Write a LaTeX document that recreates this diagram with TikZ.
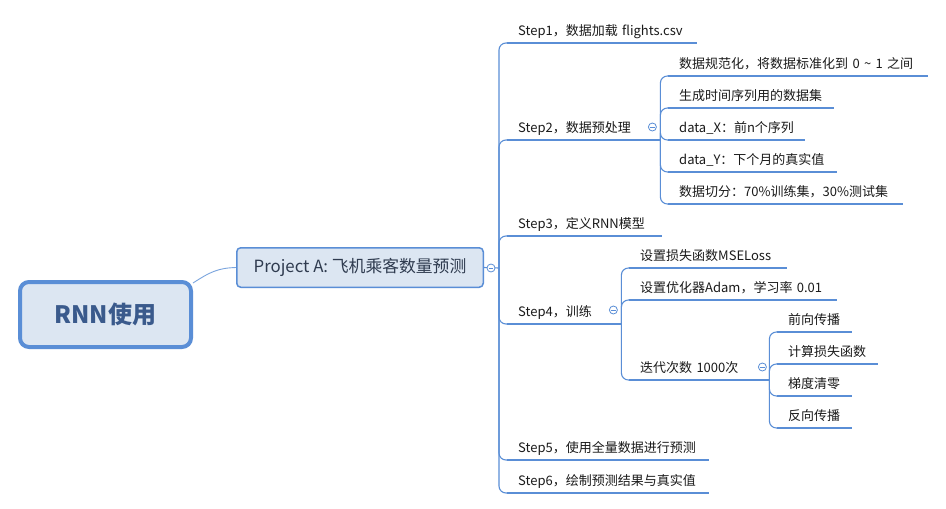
\documentclass[tikz,border=0pt]{standalone}
\usepackage{fontspec}
\setmainfont{Noto Sans CJK SC}
\usetikzlibrary{calc}
\definecolor{lineblue}{HTML}{5A8ED6}
\definecolor{boxfill}{HTML}{DCE6F2}
\definecolor{roottext}{HTML}{3A5A8C}
\definecolor{projtext}{HTML}{2F3B4F}
\definecolor{steptext}{HTML}{1A1A1A}
\begin{document}
\begin{tikzpicture}[x=1pt,y=-1pt,
  topic/.style={anchor=south west, inner xsep=11pt, inner ysep=4pt, text height=10pt, text depth=3pt, text width=#1, align=left, font=\fontsize{13pt}{15pt}\selectfont, text=steptext},
  uline/.style={draw=lineblue, line width=2.6pt},
  conn/.style={draw=lineblue, line width=1.1pt, rounded corners=7pt},
  knob/.style={circle, draw=lineblue, fill=white, line width=0.8pt, minimum size=8pt, inner sep=0pt},
  minus/.style={draw=lineblue, line width=0.8pt}
]
\useasboundingbox[fill=white] (0,0) rectangle (946,509);

% central nodes
\node[draw=lineblue, line width=4pt, fill=boxfill, rounded corners=9pt, minimum width=171pt, minimum height=65pt, font=\fontsize{24pt}{27pt}\selectfont\bfseries, text=roottext] (root) at (105.5,314.5) {RNN使用};
\node[draw=lineblue, line width=1.5pt, fill=boxfill, rounded corners=4pt, minimum width=246.5pt, minimum height=39.5pt, font=\fontsize{16.8pt}{19pt}\selectfont, text=projtext] (proj) at (360,267.5) {Project A: 飞机乘客数量预测};

% steps
\node[topic=168pt] (s1) at (507,43) {\mbox{Step1，数据加载 flights.csv}};
\node[topic=116pt] (s2) at (507,140) {\mbox{Step2，数据预处理}};
\node[topic=133pt] (s3) at (507,236) {\mbox{Step3，定义RNN模型}};
\node[topic=76pt] (s4) at (507,324) {\mbox{Step4，训练}};
\node[topic=180pt] (s5) at (507,460) {\mbox{Step5，使用全量数据进行预测}};
\node[topic=180pt] (s6) at (507,493) {\mbox{Step6，绘制预测结果与真实值}};

% step2 children
\node[topic=238pt] (a1) at (668,76) {\mbox{数据规范化，将数据标准化到 0 \textasciitilde{} 1 之间}};
\node[topic=144pt] (a2) at (668,108) {\mbox{生成时间序列用的数据集}};
\node[topic=115pt] (a3) at (668,140) {\mbox{data\_X：前n个序列}};
\node[topic=147pt] (a4) at (668,172) {\mbox{data\_Y：下个月的真实值}};
\node[topic=213pt] (a5) at (668,204) {\mbox{数据切分：70\%训练集，30\%测试集}};

% step4 children
\node[topic=136pt] (b1) at (629,268) {\mbox{设置损失函数MSELoss}};
\node[topic=186pt] (b2) at (629,300) {\mbox{设置优化器Adam，学习率 0.01}};
\node[topic=102pt] (b3) at (629,380) {\mbox{迭代次数 1000次}};

% iteration children
\node[topic=53pt] (c1) at (777,332) {\mbox{前向传播}};
\node[topic=79pt] (c2) at (777,364) {\mbox{计算损失函数}};
\node[topic=53pt] (c3) at (777,396) {\mbox{梯度清零}};
\node[topic=53pt] (c4) at (777,428) {\mbox{反向传播}};

% junction coordinates
\coordinate (j0) at ($(proj.east)+(15,0.5)$);
\coordinate (j2) at ($(s2.south east)+(15,0)$);
\coordinate (j4) at ($(s4.south east)+(16,0)$);
\coordinate (j43) at ($(b3.south east)+(16,0)$);

% connectors
\draw[draw=lineblue!80, line width=0.9pt] ($(root.north east)+(0,3)$) .. controls (210,272) and (218,268) .. (proj.west);
\draw[conn] (proj.east) -- (j0);
\foreach \n in {s1,s2,s3,s4,s5,s6} \draw[conn] (j0) |- (\n.south west);
\draw[conn] (s2.south east) -- (j2);
\foreach \n in {a1,a2,a3,a4,a5} \draw[conn] (j2) |- (\n.south west);
\draw[conn] (s4.south east) -- (j4);
\foreach \n in {b1,b2,b3} \draw[conn] (j4) |- (\n.south west);
\draw[conn] (b3.south east) -- (j43);
\foreach \n in {c1,c2,c3,c4} \draw[conn] (j43) |- (\n.south west);

% underlines
\foreach \n in {s1,s2,s3,s4,s5,s6,a1,a2,a3,a4,a5,b1,b2,b3,c1,c2,c3,c4}
  \draw[uline] (\n.south west) -- (\n.south east);

% collapse knobs
\node[knob] (k0) at ($(proj.east)+(7,0.5)$) {};
\node[knob] (k2) at ($(s2.south east)+(7,-13)$) {};
\node[knob] (k4) at ($(s4.south east)+(8,-14)$) {};
\node[knob] (k43) at ($(b3.south east)+(9,-13)$) {};
\foreach \k in {k0,k2,k4,k43}
  \draw[minus] ($(\k.center)+(-2.2,0)$) -- ($(\k.center)+(2.2,0)$);
\end{tikzpicture}
\end{document}
